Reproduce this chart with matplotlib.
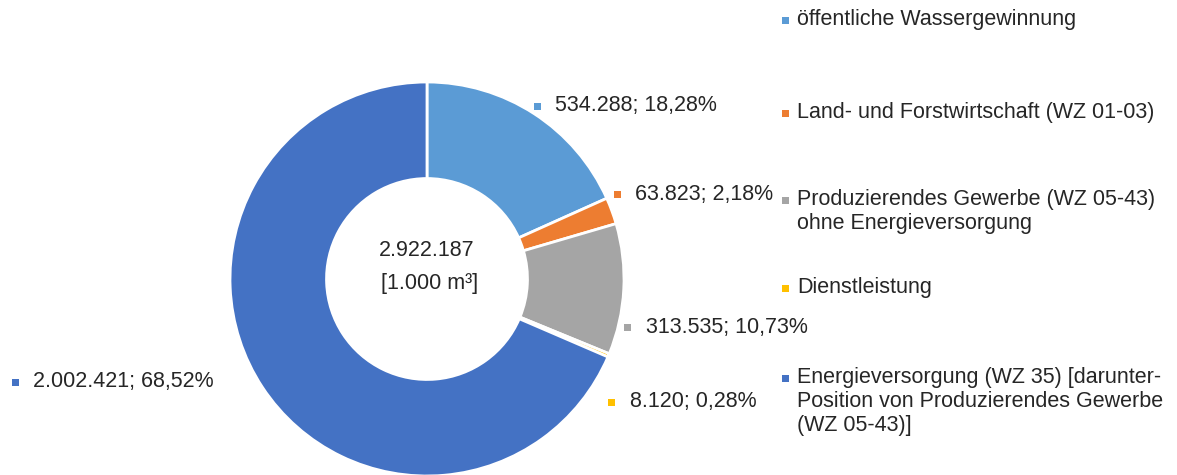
import matplotlib
matplotlib.use("Agg")
import matplotlib.pyplot as plt
from matplotlib.patches import Rectangle

plt.rcParams['font.family'] = ['Liberation Sans', 'DejaVu Sans']

categories = [
    "öffentliche Wassergewinnung",
    "Land- und Forstwirtschaft (WZ 01-03)",
    "Produzierendes Gewerbe (WZ 05-43)\nohne Energieversorgung",
    "Dienstleistung",
    "Energieversorgung (WZ 35) [darunter-\nPosition von Produzierendes Gewerbe\n(WZ 05-43)]",
]
values = [534288, 63823, 313535, 8120, 2002421]
value_labels = ["534.288; 18,28%", "63.823; 2,18%", "313.535; 10,73%",
                "8.120; 0,28%", "2.002.421; 68,52%"]
total_lines = ["2.922.187", " [1.000 m³]"]
colors = ["#5B9BD5", "#ED7D31", "#A5A5A5", "#FFC000", "#4472C4"]

W, H = 1177, 475
fig = plt.figure(figsize=(W / 100, H / 100), dpi=100)

cx, cy, R = 427, 279, 197
ax = fig.add_axes([(cx - R) / W, (H - cy - R) / H, 2 * R / W, 2 * R / H])
ax.pie(values, colors=colors, startangle=90, counterclock=False, radius=1,
       wedgeprops=dict(width=0.49, edgecolor="white", linewidth=2.0))
ax.set_xlim(-1, 1)
ax.set_ylim(-1, 1)
ax.set_aspect("equal")
ax.axis("off")
for p in ax.patches:
    p.set_clip_on(False)

txtcol = "#262626"
fs = 15.5


def fx(x):
    return x / W


def fy(y):
    return 1 - y / H


# centre total
for y, line in zip([250, 284], total_lines):
    fig.text(fx(cx), fy(y), line, ha="center", va="center", fontsize=fs,
             color=txtcol)


def marker(x, y, c):
    s = 7
    fig.patches.append(Rectangle((fx(x - s / 2), fy(y + s / 2)), s / W, s / H,
                                 transform=fig.transFigure, facecolor=c,
                                 edgecolor="none"))


# data labels (pixel positions: marker x, text x, center y)
label_pos = [(537, 555, 106), (617, 635, 194), (627, 646, 327),
             (611, 630, 402), (15, 33, 382)]
for (mx, tx, y), lab, c in zip(label_pos, value_labels, colors):
    marker(mx, y, c)
    fig.text(fx(tx), fy(y), lab, ha="left", va="center", fontsize=fs,
             color=txtcol)

# legend
leg_y = [20, 113, 200, 288, 378]
for y, lab, c in zip(leg_y, categories, colors):
    marker(785, y, c)
    fig.text(fx(797), fy(y - 11), lab, ha="left", va="top", fontsize=fs,
             color=txtcol, linespacing=1.2)

fig.savefig("out.png", dpi=100)
